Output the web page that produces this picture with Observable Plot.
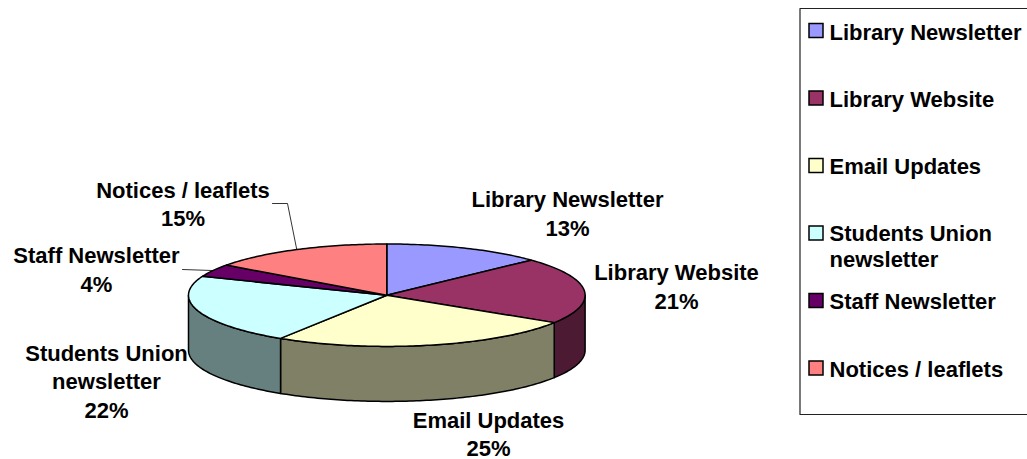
<!DOCTYPE html>
<html>
<head>
<meta charset="utf-8">
<style>html,body{margin:0;padding:0;background:#fff}svg{display:block}</style>
<script src="https://cdn.jsdelivr.net/npm/d3@7"></script>
<script src="https://cdn.jsdelivr.net/npm/@observablehq/plot@0.6"></script>
</head>
<body>
<script>
// Data
const categories = ["Library Newsletter", "Library Website", "Email Updates", "Students Union newsletter", "Staff Newsletter", "Notices / leaflets"];
const percents = [13, 21, 25, 22, 4, 15];
const labelLines = ["Library Newsletter", "Library Website", "Email Updates", "Students Union\nnewsletter", "Staff Newsletter", "Notices / leaflets"];
const legendLines = ["Library Newsletter", "Library Website", "Email Updates", "Students Union\nnewsletter", "Staff Newsletter", "Notices / leaflets"];

// Styles
const topColors = ["#9999ff", "#993366", "#ffffcc", "#ccffff", "#660066", "#ff8080"];
const sideColors = ["#4d4d80", "#4d1a33", "#808066", "#668080", "#330033", "#804040"];

// Layout
const pie = {cx: 386.3, cy: 294.7, rx: 198.3, ry: 51.2, depth: 55};
const labelX = [567, 676, 488, 106, 96, 182.5];
const labelY = [212, 285, 432.5, 379.5, 268, 202.5];
const legendY = [31.5, 98.5, 165.5, 245.5, 300.5, 368.5];
const swatchY = [30.5, 98, 165.5, 233, 300.5, 368];

// Pie geometry from the values
const rad = d => d * Math.PI / 180;
const point = (deg, dy = 0) => ({x: pie.cx + pie.rx * Math.sin(rad(deg)), y: pie.cy + dy - pie.ry * Math.cos(rad(deg))});
const arc = (a, b, dy = 0) => {
  const n = Math.max(2, Math.ceil(Math.abs(b - a)));
  return d3.range(n + 1).map(i => point(a + (b - a) * i / n, dy));
};
const bounds = d3.cumsum(percents).map(v => v * 3.6);
const slices = percents.map((p, i) => ({i, a: i ? bounds[i - 1] : 0, b: bounds[i], mid: (i ? bounds[i - 1] : 0) + p * 1.8}));

const topRows = slices.flatMap(s => [{x: pie.cx, y: pie.cy}, ...arc(s.a, s.b), {x: pie.cx, y: pie.cy}]
  .map(p => ({...p, key: s.i, color: topColors[s.i]})));
const sideRows = slices.filter(s => s.b > 90 && s.a < 270).flatMap(s => {
  const a = Math.max(s.a, 90), b = Math.min(s.b, 270);
  const top = arc(a, b);
  return [...top, ...arc(b, a, pie.depth), top[0]].map(p => ({...p, key: s.i, color: sideColors[s.i]}));
});

const labels = categories.map((c, i) => ({text: `${labelLines[i]}\n${percents[i]}%`, x: labelX[i], y: labelY[i]}));
const leaders = [
  ...[{x: 182, y: 269}, point(slices[4].mid)].map(p => ({...p, key: "staff"})),
  ...[{x: 272, y: 203}, {x: 287, y: 203}, point(slices[5].mid)].map(p => ({...p, key: "notices"}))
];
const legendFrame = [{x: 1027, y: 8}, {x: 799.5, y: 8}, {x: 799.5, y: 414}, {x: 1027, y: 414}];
const legendRows = categories.map((c, i) => ({text: legendLines[i], y: legendY[i], sy: swatchY[i], color: topColors[i]}));

const chart = Plot.plot({
  width: 1027, height: 459,
  margin: 0,
  x: {domain: [0, 1027], range: [0, 1027], axis: null},
  y: {domain: [0, 459], range: [0, 459], axis: null},
  style: {fontFamily: "'Liberation Sans', Arial, sans-serif", background: "#fff"},
  marks: [
    Plot.line(sideRows, {x: "x", y: "y", z: "key", fill: "color", stroke: "#000", strokeWidth: 1.5, curve: "linear"}),
    Plot.line(topRows, {x: "x", y: "y", z: "key", fill: "color", stroke: "#000", strokeWidth: 1.5, curve: "linear"}),
    Plot.line(leaders, {x: "x", y: "y", z: "key", stroke: "#000", strokeWidth: 0.8}),
    Plot.text(labels, {x: "x", y: "y", text: "text", fontSize: 22, fontWeight: "bold", fill: "#000", textAnchor: "middle", lineHeight: 1.3}),
    Plot.line(legendFrame, {x: "x", y: "y", stroke: "#222", strokeWidth: 1.2}),
    Plot.rect(legendRows, {x1: () => 809, x2: () => 823, y1: d => d.sy - 7, y2: d => d.sy + 7, fill: "color", stroke: "#000", strokeWidth: 1.5}),
    Plot.text(legendRows, {x: () => 829, y: "y", text: "text", fontSize: 22, fontWeight: "bold", fill: "#000", textAnchor: "start", lineHeight: 1.18})
  ]
});
document.body.appendChild(chart);
</script>
</body>
</html>
